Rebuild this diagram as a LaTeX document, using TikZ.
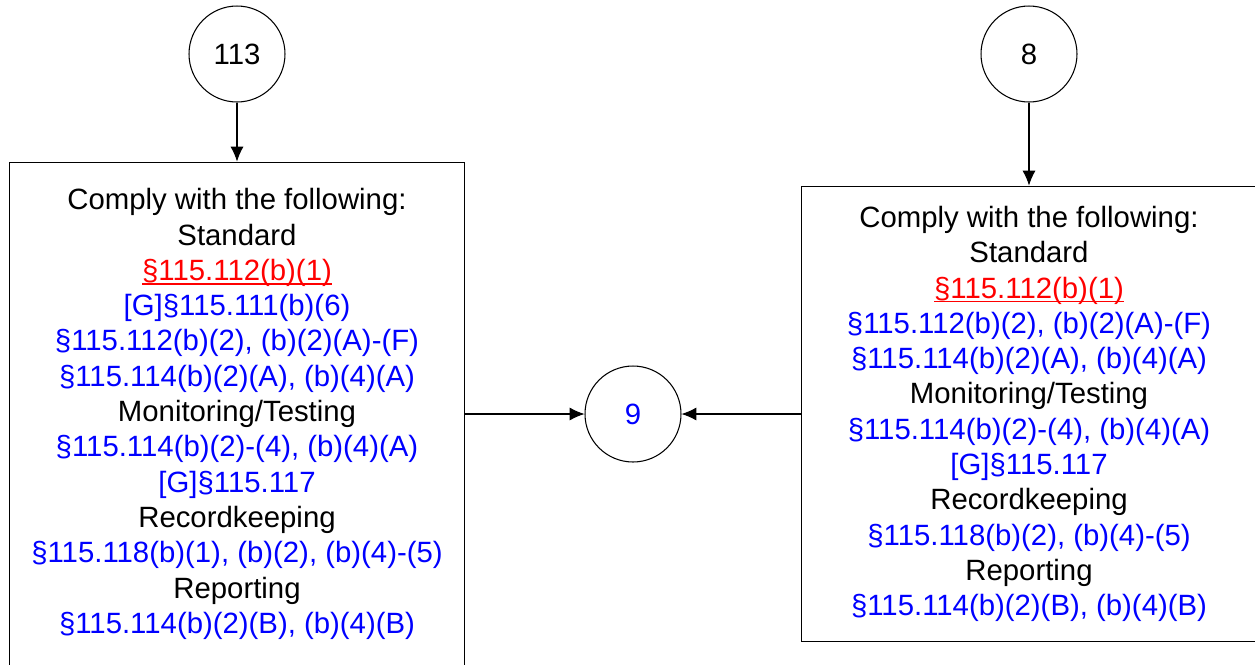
\documentclass[tikz,border=0pt]{standalone}
\usepackage{fontspec}
\setmainfont{Liberation Sans}
\usetikzlibrary{arrows.meta}
\definecolor{refblue}{RGB}{0,0,255}
\definecolor{refred}{RGB}{255,0,0}
\newcommand{\rulecite}[1]{\textcolor{refblue}{#1}}
\newcommand{\keycite}[1]{\textcolor{refred}{\setbox0\hbox{#1}\rlap{\rule[-2.4pt]{\wd0}{0.7pt}}\box0}}
\tikzset{
  stepcircle/.style={draw, circle, line width=0.6pt, minimum size=1.92cm, inner sep=0pt,
    font=\fontsize{16.7}{20.1}\selectfont},
  rulebox/.style={draw, rectangle, line width=0.6pt, minimum width=9.12cm, align=center,
    inner sep=0pt, font=\fontsize{16.7}{20.1}\selectfont},
  flow/.style={line width=0.6pt, -{Latex[length=8.5pt,width=7.5pt]}}
}
\begin{document}
\begin{tikzpicture}[x=0.02cm, y=-0.02cm]
\useasboundingbox (0,0) rectangle (1255,664);

  \node[stepcircle] (c113) at (237,54) {113};
  \node[stepcircle] (c8) at (1029,54) {8};
  \node[stepcircle, text=refblue] (c9) at (633,414) {9};

  \node[rulebox, minimum height=10.08cm] (boxL) at (237,414) {Comply with the following:\\
    Standard\\
    \keycite{§115.112(b)(1)}\\
    \rulecite{[G]§115.111(b)(6)}\\
    \rulecite{§115.112(b)(2), (b)(2)(A)-(F)}\\
    \rulecite{§115.114(b)(2)(A), (b)(4)(A)}\\
    Monitoring/Testing\\
    \rulecite{§115.114(b)(2)-(4), (b)(4)(A)}\\
    \rulecite{[G]§115.117}\\
    Recordkeeping\\
    \rulecite{§115.118(b)(1), (b)(2), (b)(4)-(5)}\\
    Reporting\\
    \rulecite{§115.114(b)(2)(B), (b)(4)(B)}};

  \node[rulebox, minimum height=9.12cm] (boxR) at (1029,414) {Comply with the following:\\
    Standard\\
    \keycite{§115.112(b)(1)}\\
    \rulecite{§115.112(b)(2), (b)(2)(A)-(F)}\\
    \rulecite{§115.114(b)(2)(A), (b)(4)(A)}\\
    Monitoring/Testing\\
    \rulecite{§115.114(b)(2)-(4), (b)(4)(A)}\\
    \rulecite{[G]§115.117}\\
    Recordkeeping\\
    \rulecite{§115.118(b)(2), (b)(4)-(5)}\\
    Reporting\\
    \rulecite{§115.114(b)(2)(B), (b)(4)(B)}};

  \draw[flow] (c113) -- (boxL);
  \draw[flow] (c8) -- (boxR);
  \draw[flow] (boxL) -- (c9);
  \draw[flow] (boxR) -- (c9);
\end{tikzpicture}
\end{document}
